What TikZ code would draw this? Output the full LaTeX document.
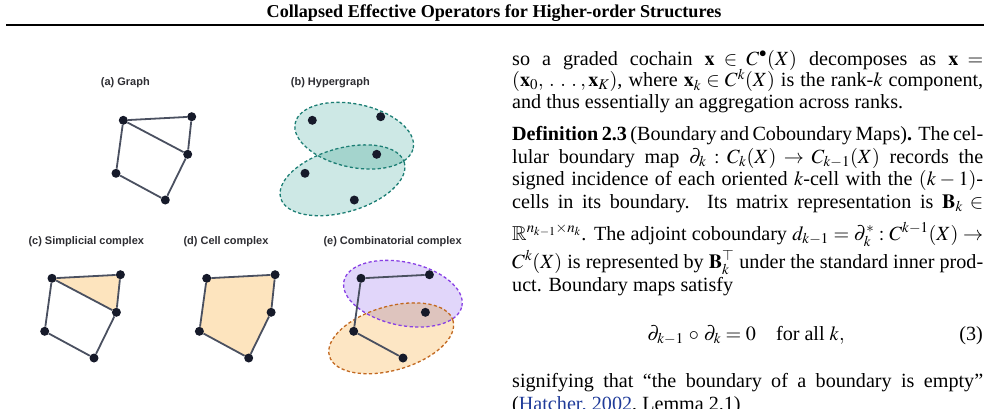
\documentclass[tikz,border=0pt]{standalone}
\usepackage{amsmath,amssymb}
\usepackage{mathptmx}
\usepackage{fontspec}
\setmainfont{Liberation Serif}
\newfontfamily\figsans{Liberation Sans}
\definecolor{dotc}{RGB}{22,26,42}
\definecolor{edgec}{RGB}{74,80,96}
\definecolor{lblc}{RGB}{45,45,50}
\definecolor{cellfill}{RGB}{253,228,190}
\definecolor{tealL}{RGB}{205,232,229}
\definecolor{tealO}{RGB}{164,212,205}
\definecolor{tealD}{RGB}{28,126,116}
\definecolor{purL}{RGB}{225,214,250}
\definecolor{purD}{RGB}{136,64,228}
\definecolor{oraL}{RGB}{253,230,196}
\definecolor{oraD}{RGB}{194,104,32}
\definecolor{mixO}{RGB}{222,196,190}
\definecolor{citeblue}{RGB}{31,59,153}
\newcommand\placecoords{%
  \coordinate (pA) at (123.3,120.3);
  \coordinate (pB) at (191.7,116.7);
  \coordinate (pC) at (187.7,154.3);
  \coordinate (pD) at (116,173.3);
  \coordinate (pE) at (165.3,200);}
\newcommand\placedots{%
  \node[dot] (A) at (pA) {};
  \node[dot] (B) at (pB) {};
  \node[dot] (C) at (pC) {};
  \node[dot] (D) at (pD) {};
  \node[dot] (E) at (pE) {};}
\newcommand\ellTpath{(0,0) ellipse [x radius=60.3pt, y radius=31.6pt]}
\newcommand\ellBpath{(0,0) ellipse [x radius=64.3pt, y radius=31.9pt]}
\newcommand\spdots{\mkern3mu.\mkern5mu.\mkern5mu.\mkern3mu}
\begin{document}
\begin{tikzpicture}[x=1pt,y=-1pt,
  dot/.style={circle,fill=dotc,inner sep=0pt,minimum size=9pt},
  edge/.style={draw=edgec,line width=1.8pt},
  lbl/.style={anchor=base west,inner sep=0pt,text=lblc,font=\figsans\bfseries\fontsize{11}{13}\selectfont},
  txt/.style={anchor=base west,inner sep=0pt,font=\fontsize{20.14}{22.15}\selectfont},
  hdash/.style={dash pattern=on 3.2pt off 2.4pt,line width=1.3pt},
  ellT/.style={shift={(165.2,135.7)},rotate=-12},
  ellB/.style={shift={(153.5,180.3)},rotate=16}]
\useasboundingbox (0,0) rectangle (988,408);
\clip (0,0) rectangle (988,408);
% header
\node[anchor=base,inner sep=0pt,font=\bfseries\fontsize{18.13}{20}\selectfont] (title) at (494,17.5) {Collapsed Effective Operators for Higher-order Structures};
\fill (6,23.5) rectangle (984,25.5);
% labels
\node[lbl] (la) at (100.7,85.5) {(a) Graph};
\node[lbl] (lb) at (290.7,85.5) {(b) Hypergraph};
\node[lbl] (lc) at (28.3,244) {(c) Simplicial complex};
\node[lbl] (ld) at (183.3,244) {(d) Cell complex};
\node[lbl] (le) at (323.3,244) {(e) Combinatorial complex};
% (a) graph
\begin{scope}[name prefix=a-]
  \placecoords\placedots
  \draw[edge] (A) -- (B); \draw[edge] (B) -- (C); \draw[edge] (A) -- (C);
  \draw[edge] (A) -- (D); \draw[edge] (D) -- (E); \draw[edge] (E) -- (C);
\end{scope}
% (b) hypergraph
\begin{scope}[shift={(189,0)},name prefix=b-]
  \placecoords
  \fill[ellT,tealL] \ellTpath;
  \fill[ellB,tealL] \ellBpath;
  \begin{scope}
    \clip[ellT] \ellTpath;
    \fill[ellB,tealO] \ellBpath;
  \end{scope}
  \draw[ellT,hdash,tealD] \ellTpath;
  \draw[ellB,hdash,tealD] \ellBpath;
  \placedots
\end{scope}
% (c) simplicial complex
\begin{scope}[shift={(-71.3,158)},name prefix=c-]
  \placecoords
  \fill[cellfill] (pA) -- (pB) -- (pC) -- cycle;
  \placedots
  \draw[edge] (A) -- (B); \draw[edge] (B) -- (C); \draw[edge] (A) -- (C);
  \draw[edge] (A) -- (D); \draw[edge] (D) -- (E); \draw[edge] (E) -- (C);
\end{scope}
% (d) cell complex
\begin{scope}[shift={(83.4,158)},name prefix=d-]
  \placecoords
  \fill[cellfill] (pA) -- (pB) -- (pC) -- (pE) -- (pD) -- cycle;
  \placedots
  \draw[edge] (A) -- (B); \draw[edge] (B) -- (C); \draw[edge] (C) -- (E);
  \draw[edge] (E) -- (D); \draw[edge] (D) -- (A);
\end{scope}
% (e) combinatorial complex
\begin{scope}[shift={(237.7,158)},name prefix=e-]
  \placecoords
  \fill[ellT,purL] \ellTpath;
  \fill[ellB,oraL] \ellBpath;
  \begin{scope}
    \clip[ellT] \ellTpath;
    \fill[ellB,mixO] \ellBpath;
  \end{scope}
  \draw[ellT,hdash,purD] \ellTpath;
  \draw[ellB,hdash,oraD] \ellBpath;
  \placedots
  \draw[edge] (A) -- (B); \draw[edge] (A) -- (D); \draw[edge] (D) -- (E);
\end{scope}
% right column text
\node[txt] (l1) at (512,65) {\makebox[471pt][s]{so a graded cochain $\mathbf{x} \in C^{\bullet}(X)$ decomposes as $\mathbf{x} =$}};
\node[txt] (l2) at (512,86.7) {\makebox[471pt][s]{$(\mathbf{x}_0,\spdots,\mathbf{x}_K)$, where $\mathbf{x}_k \in C^k(X)$ is the rank-$k$ component,}};
\node[txt] (l3) at (512,108.3) {and thus essentially an aggregation across ranks.};
\node[txt] (l4) at (512,140.7) {\makebox[471pt][s]{\textbf{Definition 2.3} (Boundary and Coboundary Maps)\textbf{.} The cel-}};
\node[txt] (l5) at (512,163.3) {\makebox[471pt][s]{lular boundary map $\partial_k : C_k(X) \to C_{k-1}(X)$ records the}};
\node[txt] (l6) at (512,185.7) {\makebox[471pt][s]{signed incidence of each oriented $k$-cell with the $(k-1)$-}};
\node[txt] (l7) at (512,208.3) {\makebox[471pt][s]{cells in its boundary. Its matrix representation is $\mathbf{B}_k \in$}};
\node[txt] (l8) at (512,240) {\makebox[471pt][s]{$\mathbb{R}^{n_{k-1}\times n_k}$. The adjoint coboundary $d_{k-1} = \partial_k^{*} : C^{k-1}(X) \to$}};
\node[txt] (l9) at (512,268) {\makebox[471pt][s]{$C^k(X)$ is represented by $\mathbf{B}_k^{\top}$ under the standard inner prod-}};
\node[txt] (l10) at (512,291.7) {uct. Boundary maps satisfy};
\node[txt,anchor=base] (eq) at (746,340) {$\partial_{k-1} \mathbin{\,\circ\,} \partial_k = 0 \quad \text{for all } k,$};
\node[txt,anchor=base east] (eqn) at (983,340) {(3)};
\node[txt] (l12) at (512,387) {\makebox[471pt][s]{signifying that ``the boundary of a boundary is empty''}};
\node[txt] (l13) at (512,410) {(\textcolor{citeblue}{Hatcher, 2002}, Lemma 2.1)};
\end{tikzpicture}
\end{document}
